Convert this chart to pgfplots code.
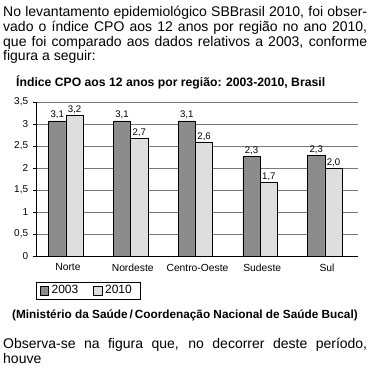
\documentclass[border=0pt]{standalone}
\usepackage{pgfplots}
\pgfplotsset{compat=1.18}
\usepackage{fontspec}
\setmainfont{Liberation Sans}
\definecolor{darkbar}{RGB}{140,140,140}
\definecolor{lightbar}{RGB}{222,222,222}
\definecolor{gridgray}{RGB}{120,120,120}
\pgfplotstableread{
x y label
0 3.07 3,1
1 3.07 3,1
2 3.07 3,1
3 2.27 2,3
4 2.29 2,3
}\dataA
\pgfplotstableread{
x y label
0 3.20 3,2
1 2.68 2,7
2 2.59 2,6
3 1.68 1,7
4 2.00 2,0
}\dataB
\begin{document}
\begin{tikzpicture}
\useasboundingbox (0,0) rectangle (370pt,-370pt);
\fontsize{14}{15}\selectfont
\node[anchor=base west,inner sep=0] at (3pt,-16.5pt) {\hbox to 364pt{No levantamento epidemiológico SBBrasil 2010, foi obser-}};
\node[anchor=base west,inner sep=0] at (3pt,-31.3pt) {\hbox to 364pt{vado o índice CPO aos 12 anos por região no ano 2010,}};
\node[anchor=base west,inner sep=0] at (3pt,-46.1pt) {\hbox to 364pt{que foi comparado aos dados relativos a 2003, conforme}};
\node[anchor=base west,inner sep=0] at (3pt,-60.9pt) {figura a seguir:};
\node[anchor=base west,inner sep=0,font=\fontsize{12.2}{14}\selectfont\bfseries] at (16pt,-86.5pt) {Índice CPO aos 12 anos por região: 2003-2010, Brasil};
\begin{axis}[
  at={(36pt,-256pt)}, anchor=south west,
  scale only axis, width=322pt, height=154pt,
  xmin=-0.463, xmax=4.51, ymin=0, ymax=3.5,
  ybar=0pt, bar width=17.3pt,
  axis x line*=bottom, axis y line*=left,
  axis line style={black, line width=0.8pt},
  xtick={0,1,2,3,4},
  xticklabels={Norte,Nordeste,Centro-Oeste,Sudeste,Sul},
  x tick style={draw=none},
  xticklabel style={font=\fontsize{10.3}{12}\selectfont, xshift=2pt},
  ytick={0,0.5,...,3.5},
  y tick style={black, line width=0.8pt},
  tick align=outside, major tick length=3pt,
  yticklabel style={font=\fontsize{10}{12}\selectfont},
  /pgf/number format/use comma,
  /pgf/number format/assume math mode=true,
  ymajorgrids, grid style={gridgray, line width=0.8pt},
  nodes near coords={\pgfplotspointmeta},
  point meta=explicit symbolic,
  nodes near coords style={font=\fontsize{9.6}{11}\selectfont, anchor=base, inner sep=0pt, yshift=3pt, text=black},
  legend columns=2,
  legend style={at={(0,-0.167)}, anchor=north west, draw=black, line width=0.6pt,
    font=\fontsize{12}{14}\selectfont, inner xsep=3.5pt, inner ysep=2pt,
    nodes={inner xsep=1pt, inner ysep=1.5pt},
    column sep=0pt,
    /tikz/column 2/.style={column sep=14pt}},
  clip=false,
]
\addplot[fill=darkbar, draw=black, line width=0.8pt,
  legend image code/.code={\draw[fill=darkbar,draw=black,line width=0.6pt] (0pt,-4.1pt) rectangle (8.3pt,4.1pt); \path (0pt,0pt) (10pt,0pt);}]
  table[x=x,y=y,meta=label]{\dataA};
\addplot[fill=lightbar, draw=black, line width=0.8pt,
  legend image code/.code={\draw[fill=lightbar,draw=black,line width=0.6pt] (0pt,-4.1pt) rectangle (8.3pt,4.1pt); \path (0pt,0pt) (10pt,0pt);}]
  table[x=x,y=y,meta=label]{\dataB};
\legend{2003,2010\hspace*{4pt}}
\end{axis}
\node[anchor=base west,inner sep=0,font=\fontsize{11.8}{14}\selectfont\bfseries] at (12pt,-318pt) {(Ministério da Saúde\,/\,Coordenação Nacional de Saúde Bucal)};
\node[anchor=base west,inner sep=0] at (3pt,-348pt) {\hbox to 364pt{Observa-se na figura que, no decorrer deste período,}};
\node[anchor=base west,inner sep=0] at (3pt,-363pt) {houve};
\end{tikzpicture}
\end{document}
